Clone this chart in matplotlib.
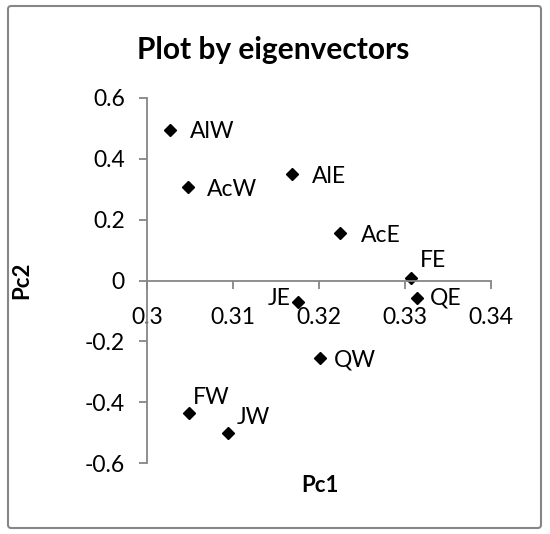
import matplotlib.pyplot as plt
from matplotlib.patches import FancyBboxPatch

names = ['AlW', 'AcW', 'AlE', 'AcE', 'FE', 'QE', 'JE', 'QW', 'FW', 'JW']
pc1 = [0.3027, 0.3048, 0.3169, 0.3224, 0.3307, 0.3314, 0.3176, 0.3201, 0.3049, 0.3094]
pc2 = [0.496, 0.307, 0.350, 0.155, 0.007, -0.056, -0.070, -0.255, -0.437, -0.500]

# label placement in pixels relative to each point
label_offsets = {
    'AlW': (20, -2), 'AcW': (19, -2), 'AlE': (20, -2), 'AcE': (21, -2),
    'FE': (9, 18), 'QE': (13, 0), 'JE': (-8, 3), 'QW': (14, -2),
    'FW': (4, 16), 'JW': (9, 15),
}

plt.rcParams['font.family'] = ['Lato', 'DejaVu Sans']
gray = '#868686'

fig = plt.figure(figsize=(5.5, 5.34), dpi=100)
ax = fig.add_axes([147 / 550, 1 - 463 / 534, 344 / 550, 365 / 534])

ax.plot(pc1, pc2, linestyle='none', marker='D', markersize=6.2, color='black')
for n, x, y in zip(names, pc1, pc2):
    dx, dy = label_offsets[n]
    ha = 'right' if dx < 0 else 'left'
    ax.annotate(n, (x, y), xytext=(dx, dy), textcoords='offset pixels',
                ha=ha, va='center', fontsize=16.5)

ax.set_xlim(0.3, 0.34)
ax.set_ylim(-0.6, 0.6)
ax.set_xticks([0.3, 0.31, 0.32, 0.33, 0.34])
ax.set_xticklabels(['0.3', '0.31', '0.32', '0.33', '0.34'])
ax.set_yticks([-0.6, -0.4, -0.2, 0, 0.2, 0.4, 0.6])
ax.set_yticklabels(['-0.6', '-0.4', '-0.2', '0', '0.2', '0.4', '0.6'])

ax.spines['top'].set_visible(False)
ax.spines['right'].set_visible(False)
ax.spines['bottom'].set_position(('data', 0))
for s in ('left', 'bottom'):
    ax.spines[s].set_color(gray)
    ax.spines[s].set_linewidth(1.3)
ax.tick_params(axis='both', colors=gray, labelcolor='black', labelsize=16.5,
               length=6, width=1.3, direction='out')
ax.tick_params(axis='x', pad=13)
ax.tick_params(axis='y', pad=10)
ax.set_facecolor('none')

fig.text(273 / 550, 1 - 50 / 534, 'Plot by eigenvectors', ha='center', va='center',
         fontsize=21.5, fontweight='bold')
fig.text(22 / 550, 1 - 280 / 534, 'Pc2', ha='center', va='center', rotation=90,
         fontsize=16, fontweight='bold')
fig.text(320 / 550, 1 - 485 / 534, 'Pc1', ha='center', va='center',
         fontsize=16, fontweight='bold')

border = FancyBboxPatch((8 / 550, 6 / 534), 533 / 550, 522 / 534,
                        boxstyle='round,pad=0,rounding_size=0.006',
                        transform=fig.transFigure, facecolor='none',
                        edgecolor=gray, linewidth=1.5)
fig.patches.append(border)

fig.savefig('out.png', dpi=100)
